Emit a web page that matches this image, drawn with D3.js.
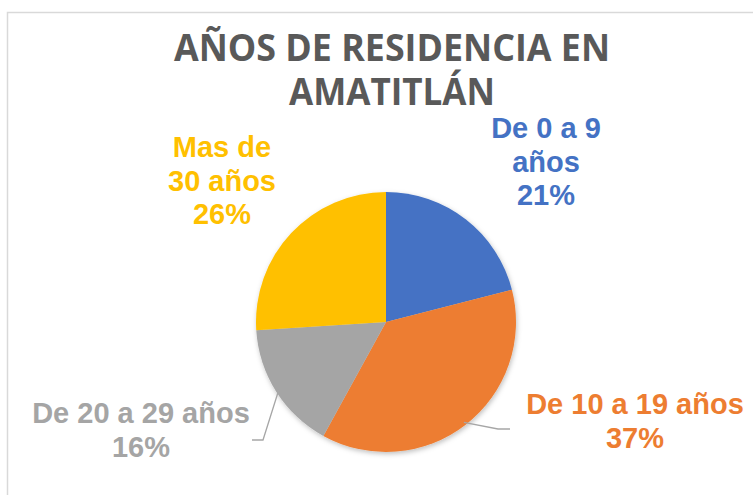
<!DOCTYPE html>
<html>
<head>
<meta charset="utf-8">
<script src="https://cdn.jsdelivr.net/npm/d3@7"></script>
<style>
  html, body { margin: 0; padding: 0; background: #fff; }
  svg { display: block; }
</style>
</head>
<body>
<svg id="chart" width="753" height="495"></svg>
<script>
// chart data
const categories = ["De 0 a 9 años", "De 10 a 19 años", "De 20 a 29 años", "Mas de 30 años"];
const values = [21, 37, 16, 26];
const colors = ["#4472C4", "#ED7D31", "#A5A5A5", "#FFC000"];
const labelLines = [
  ["De 0 a 9", "años", "21%"],
  ["De 10 a 19 años", "37%"],
  ["De 20 a 29 años", "16%"],
  ["Mas de", "30 años", "26%"]
];
const titleLines = ["AÑOS DE RESIDENCIA EN", "AMATITLÁN"];

// layout
const width = 753, height = 495;
const cx = 386, cy = 322, radius = 130;
const lineHeight = 33.5;
const titleWidths = [436, 206];
// label block centre (x, first baseline) and leader line bends
const labelLayout = [
  { x: 546, y: 138, leader: false },
  { x: 635, y: 414, leader: true, elbow: [498, 429], end: [510, 429] },
  { x: 141, y: 423, leader: true, elbow: [263, 440], end: [252, 440] },
  { x: 222, y: 157, leader: false }
];

const svg = d3.select("#chart");

const defs = svg.append("defs");
defs.append("filter")
  .attr("id", "shadow")
  .attr("x", "-20%").attr("y", "-20%")
  .attr("width", "140%").attr("height", "140%")
  .append("feDropShadow")
  .attr("dx", 1).attr("dy", 2)
  .attr("stdDeviation", 2.5)
  .attr("flood-color", "#000")
  .attr("flood-opacity", 0.25);

// chart area frame (runs past the picture on the right and bottom)
svg.append("rect")
  .attr("x", 7.5).attr("y", 12.5)
  .attr("width", 800).attr("height", 600)
  .attr("fill", "#fff")
  .attr("stroke", "#D9D9D9")
  .attr("stroke-width", 1.5);

// title
const title = svg.append("text")
  .attr("text-anchor", "middle")
  .attr("fill", "#595959")
  .style("font-family", "'Open Sans', 'Liberation Sans', sans-serif")
  .style("font-weight", "bold")
  .style("font-size", "38px");
titleLines.forEach((t, i) => {
  title.append("tspan")
    .attr("x", 392)
    .attr("y", 61 + i * 44)
    .attr("textLength", titleWidths[i])
    .attr("lengthAdjust", "spacingAndGlyphs")
    .text(t);
});

const pie = d3.pie().sort(null).value((d) => d)
  .startAngle(0).endAngle(2 * Math.PI);
const arcs = pie(values);
const arc = d3.arc().innerRadius(0).outerRadius(radius);

const g = svg.append("g")
  .attr("transform", `translate(${cx},${cy})`)
  .attr("filter", "url(#shadow)");

g.selectAll("path.slice")
  .data(arcs)
  .enter().append("path")
  .attr("class", "slice")
  .attr("d", arc)
  .attr("fill", (d, i) => colors[i]);

// leader lines start at the slice mid-angle on the pie edge
arcs.forEach((d, i) => {
  const lay = labelLayout[i];
  if (!lay.leader) return;
  const mid = (d.startAngle + d.endAngle) / 2;
  const p = d3.pointRadial(mid, radius - 3);
  const pts = [[cx + p[0], cy + p[1]], lay.elbow, lay.end];
  svg.append("path")
    .attr("d", d3.line()(pts))
    .attr("fill", "none")
    .attr("stroke", "#A6A6A6")
    .attr("stroke-width", 1.3);
});

// data labels
labelLines.forEach((lines, i) => {
  const lay = labelLayout[i];
  const t = svg.append("text")
    .attr("text-anchor", "middle")
    .attr("fill", colors[i])
    .style("font-family", "'Liberation Sans', Arial, sans-serif")
    .style("font-weight", "bold")
    .style("font-size", "29px");
  lines.forEach((s, j) => {
    t.append("tspan")
      .attr("x", lay.x)
      .attr("y", lay.y + j * lineHeight)
      .text(s);
  });
});
</script>
</body>
</html>
